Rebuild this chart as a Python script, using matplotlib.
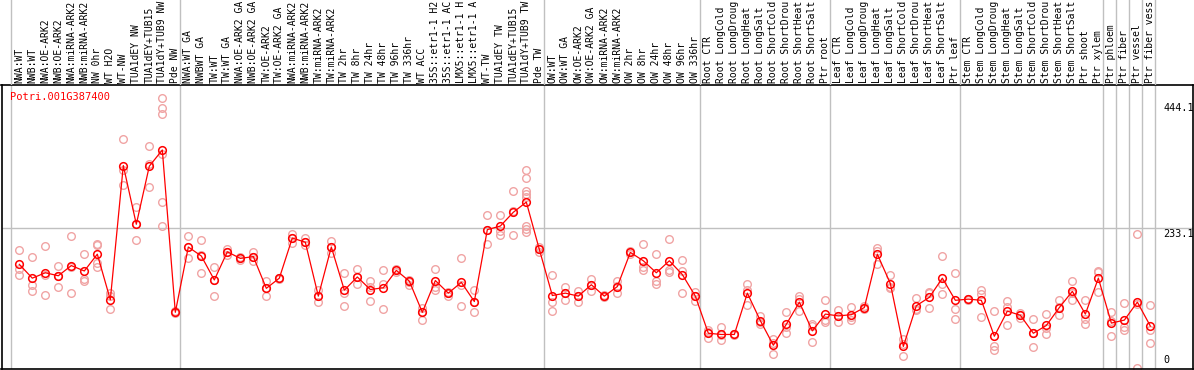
import matplotlib.pyplot as plt
import numpy as np

gene = "Potri.001G387400"

# tick labels as far as they show in the header strip
labels = [
    "NWA:WT", "NWB:WT", "NWA:OE-ARK2", "NWB:OE-ARK2", "NWA:miRNA-ARK2", "NWB:miRNA-ARK2",
    "NW 0hr", "WT H2O", "WT-NW", "TUA1dEY NW", "TUA1dEY+TUB15", "TUA1dY+TUB9 NW", "Pde NW",
    "NWA:WT GA", "NWBWT GA", "TW:WT", "TW:WT GA", "NWA:OE-ARK2 GA", "NWB:OE-ARK2 GA",
    "TW:OE-ARK2", "TW:OE-ARK2 GA", "NWA:miRNA-ARK2", "NWB:miRNA-ARK2", "TW:miRNA-ARK2",
    "TW:miRNA-ARK2", "TW 2hr", "TW 8hr", "TW 24hr", "TW 48hr", "TW 96hr", "TW 336hr",
    "WT ACC", "35S::etr1-1 H2", "35S::etr1-1 AC", "LMX5::etr1-1 H", "LMX5::etr1-1 A",
    "WT-TW", "TUA1dEY TW", "TUA1dEY+TUB15", "TUA1dY+TUB9 TW", "Pde TW",
    "OW:WT", "OW:WT GA", "OW:OE-ARK2", "OW:OE-ARK2 GA", "OW:miRNA-ARK2", "OW:miRNA-ARK2",
    "OW 2hr", "OW 8hr", "OW 24hr", "OW 48hr", "OW 96hr", "OW 336hr",
    "Root CTR", "Root LongCold", "Root LongDroug", "Root LongHeat", "Root LongSalt",
    "Root ShortCold", "Root ShortDrou", "Root ShortHeat", "Root ShortSalt", "Ptr root",
    "Leaf CTR", "Leaf LongCold", "Leaf LongDroug", "Leaf LongHeat", "Leaf LongSalt",
    "Leaf ShortCold", "Leaf ShortDrou", "Leaf ShortHeat", "Leaf ShortSalt", "Ptr leaf",
    "Stem CTR", "Stem LongCold", "Stem LongDroug", "Stem LongHeat", "Stem LongSalt",
    "Stem ShortCold", "Stem ShortDrou", "Stem ShortHeat", "Stem ShortSalt",
    "Ptr shoot", "Ptr xylem", "Ptr phloem", "Ptr fiber", "Ptr vessel", "Ptr fiber vess",
]

means = [
    173, 150, 159, 154, 171, 162, 190, 114, 338, 240, 337, 364, 93,
    202, 187, 147, 194, 183, 186, 133, 150, 217, 210, 120, 202, 130, 152, 131, 134,
    163, 145, 93, 146, 125, 143, 111, 231, 237, 260, 277, 198,
    121, 125, 120, 139, 120, 136, 193, 179, 159, 179, 156, 120,
    58, 56, 56, 125, 79, 38, 73, 110, 62, 90,
    87, 89, 101, 190, 141, 36, 104, 118, 150, 113,
    115, 113, 53, 95, 88, 58, 71, 101, 128, 90, 150,
    75, 80, 110, 70,
]

replicates = [
    [197, 165, 156], [185, 139, 128], [204, 155, 122], [170, 154, 136], [220, 169, 125],
    [190, 149, 146], [207, 205, 175, 168], [126, 121, 99], [382, 331, 305], [269, 240, 213],
    [371, 341, 303], [450, 434, 424, 357, 277, 237], [95, 93, 91],
    [220, 202, 183], [213, 188, 159], [168, 147, 120], [198, 194, 188], [185, 183, 181],
    [194, 185, 179], [146, 133, 121], [151, 150, 148], [224, 217, 209], [217, 210, 205],
    [130, 120, 110], [212, 202, 192], [158, 126, 103], [166, 152, 141], [146, 136, 112],
    [163, 140, 99], [165, 163, 161], [147, 144, 139], [101, 93, 80], [165, 136, 131],
    [127, 125, 120], [183, 139, 103], [131, 111, 93], [256, 231, 207], [256, 229, 222],
    [295, 262, 222], [331, 318, 295, 290, 286, 237, 232, 227], [202, 198, 194],
    [155, 111, 96], [136, 125, 114], [129, 120, 111], [148, 139, 129], [122, 120, 118],
    [146, 137, 125], [195, 193, 191], [207, 168, 163], [190, 145, 141], [215, 163, 160],
    [180, 162, 126], [127, 120, 112],
    [63, 60, 50], [68, 55, 46], [57, 56, 55], [140, 130, 105], [87, 77, 73],
    [48, 42, 24], [93, 68, 58], [120, 115, 95], [73, 70, 43], [113, 80, 76],
    [97, 87, 76], [102, 85, 80], [104, 100, 98], [200, 196, 174], [155, 135, 133],
    [48, 40, 20], [117, 97, 98], [127, 125, 101], [187, 140, 123], [159, 99, 81],
    [116, 115, 114], [130, 124, 85], [95, 37, 30], [112, 102, 71], [92, 88, 84],
    [81, 58, 35], [90, 66, 56], [113, 102, 88], [146, 125, 113], [114, 82, 73],
    [162, 161, 127], [94, 78, 53], [108, 68, 63], [223, 107, 0], [105, 64, 41],
]

# last index of each sample group (separator lines drawn right after them)
group_ends = [12, 40, 52, 62, 72, 83, 84, 85, 86, 87]
y_ticks = [0, 233.1, 444.1]

x = np.arange(len(means))
mono = "DejaVu Sans Mono"
grid_c = "#c0c0c0"

fig = plt.figure(figsize=(11.94, 3.70), dpi=100)
ax = fig.add_axes([1.5 / 1194, 1 / 370, 1191.5 / 1194, 284 / 370])
lax = fig.add_axes([1.5 / 1194, 285 / 370, 1191.5 / 1194, 85 / 370], sharex=ax)
lax.axis("off")

ax.set_xlim(-1.37, 90.28)
ax.set_ylim(-1.67, 472.5)
ax.set_xticks([])
ax.set_yticks([])
for s in ax.spines.values():
    s.set_linewidth(1.2)
    s.set_color("black")

# separators
seps = [-0.62] + [e + 0.38 for e in group_ends]
for sx in seps:
    ax.axvline(sx, color=grid_c, lw=1, zorder=0)
    lax.axvline(sx, color=grid_c, lw=1, zorder=0)
ax.axhline(y_ticks[1], color=grid_c, lw=1, zorder=0)

# replicates
for i, reps in enumerate(replicates):
    ax.plot([i] * len(reps), reps, ls="none", marker="o", ms=5.5, mfc="none",
            mec="#f0a4a4", mew=1.0, zorder=2, clip_on=False)

ax.plot(x, means, color="red", lw=0.9, marker="o", ms=5.5, mfc="none", mec="red",
        mew=1.1, zorder=3)

ax.text(0.0071, 0.975, gene, color="red", transform=ax.transAxes, va="top", ha="left",
        fontsize=7.5, family=mono)

# value labels on the right
for v in y_ticks[1:]:
    ax.annotate(f"{v}", (87.98, v), xytext=(0, -0.5), textcoords="offset points",
                va="top", ha="left", fontsize=7.3, family=mono)
ax.annotate("0", (87.98, 0), xytext=(0, 2), textcoords="offset points",
            va="bottom", ha="left", fontsize=7.3, family=mono)

for i, lab in enumerate(labels):
    lax.text(i, 2 / 85, lab, rotation=90, ha="center", va="bottom", fontsize=7,
             family=mono, transform=lax.get_xaxis_transform())

fig.savefig("out.png", dpi=100)
